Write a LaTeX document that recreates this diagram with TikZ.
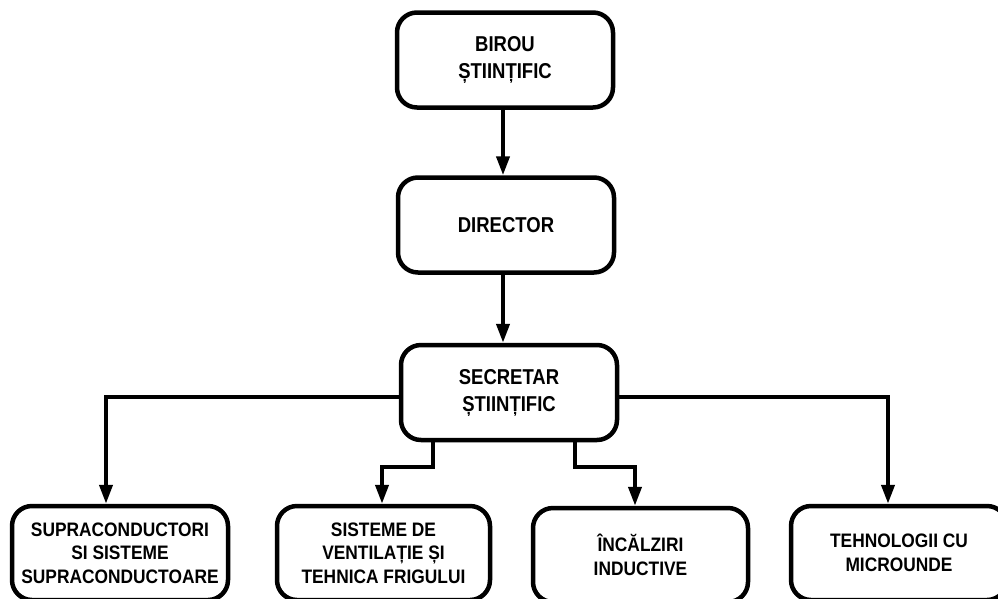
\documentclass[tikz,border=0pt]{standalone}
\usepackage{fontspec}
\setmainfont{Liberation Sans}
\newfontfamily\topfont[FakeStretch=0.86]{Liberation Sans}
\newfontfamily\botfont[FakeStretch=0.89]{Liberation Sans}
\usetikzlibrary{arrows.meta}
\begin{document}
\begin{tikzpicture}[x=1pt,y=-1pt,
  box/.style={draw=black, line width=4.5pt, rounded corners=20pt, fill=white,
    align=center, inner sep=0pt},
  topbox/.style={box, minimum width=216pt, minimum height=95pt,
    font=\topfont\bfseries\fontsize{21.5}{27}\selectfont},
  botbox/.style={box, minimum width=215pt, minimum height=94pt,
    font=\botfont\bfseries\fontsize{19.5}{23.5}\selectfont},
  arr/.style={line width=4pt, -{Triangle[length=19pt,width=13pt]}}]
\useasboundingbox (0,0) rectangle (998,598);
\clip (0,0) rectangle (998,598);
\fill[white] (0,0) rectangle (998,598);

\node[topbox] (birou) at (505,60) {BIROU\\ȘTIINȚIFIC};
\node[topbox] (dir) at (506,225) {DIRECTOR};
\node[topbox] (sec) at (509,392.5) {SECRETAR\\ȘTIINȚIFIC};

\node[botbox, minimum width=216pt] (b1) at (120,553) {SUPRACONDUCTORI\\SI SISTEME\\SUPRACONDUCTOARE};
\node[botbox, minimum width=213pt] (b2) at (383.5,553) {SISTEME DE\\VENTILAȚIE ȘI\\TEHNICA FRIGULUI};
\node[botbox] (b3) at (640.5,555) {ÎNCĂLZIRI\\INDUCTIVE};
\node[botbox, minimum width=216pt] (b4) at (899,553) {TEHNOLOGII CU\\MICROUNDE};

\draw[arr] ([xshift=-2pt]birou.south) -- ([xshift=-2pt]birou.south |- dir.north);
\draw[arr] ([xshift=-3pt]dir.south) -- ([xshift=-3pt]dir.south |- sec.north);

\draw[arr] ([yshift=-4pt]sec.west) -| ([xshift=-14pt]b1.north);
\draw[arr] ([yshift=-4pt]sec.east) -| ([xshift=-11pt]b4.north);
\draw[arr] ([xshift=-76pt]sec.south) -- ++(0,25) -| ([xshift=-1.5pt]b2.north);
\draw[arr] ([xshift=66pt]sec.south) -- ++(0,25) -| ([xshift=-5.5pt]b3.north);
\end{tikzpicture}
\end{document}
